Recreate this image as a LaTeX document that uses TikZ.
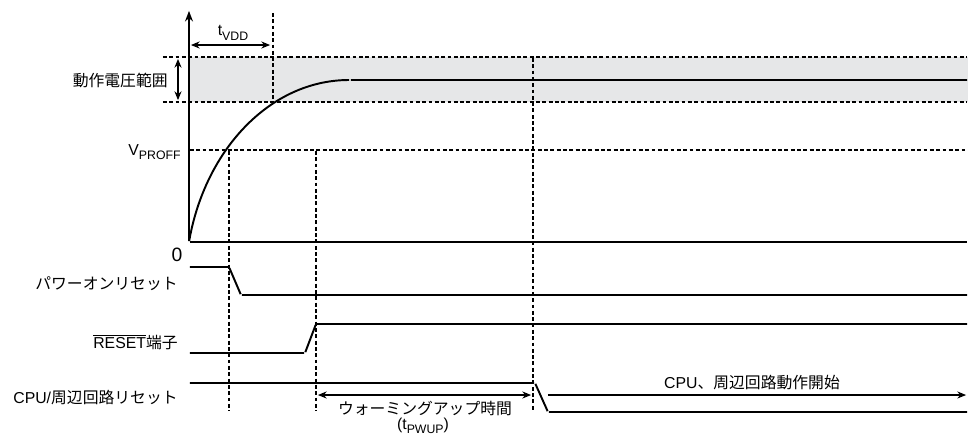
\documentclass[tikz,border=0pt]{standalone}
\usepackage{fontspec}
\setmainfont{Liberation Sans}
\newfontfamily\jp{Noto Sans CJK JP}
\usetikzlibrary{arrows.meta}
\newcommand{\lowsub}[1]{\raisebox{-0.28em}{\fontsize{7}{8}\selectfont #1}}
\tikzstyle{none}=[inner sep=0pt,outer sep=0pt]
\definecolor{bandgray}{rgb}{0.902,0.906,0.910}
\definecolor{myblack}{rgb}{0.000,0.000,0.000}
\tikzstyle{sig}=[line width=1.1pt,draw=myblack,line join=round]
\tikzstyle{guide}=[line width=0.9pt,draw=myblack,dash pattern=on 2.2pt off 1.4pt]
\tikzstyle{dim}=[line width=1.1pt,draw=myblack,{Stealth[length=5pt,width=4pt]}-{Stealth[length=5pt,width=4pt]}]
\tikzstyle{lbl}=[inner sep=0pt,font=\fontsize{9}{11}\selectfont]

\begin{document}
\begin{tikzpicture}[x=0.02cm,y=-0.02cm]
\useasboundingbox (0,0) rectangle (968,434);
		\node [style=none] (0) at (189,242) {};
		\node [style=none] (1) at (189,10) {};
		\node [style=none] (2) at (968,242) {};
		\node [style=none] (3) at (189,57) {};
		\node [style=none] (4) at (162,57) {};
		\node [style=none] (5) at (968,57) {};
		\node [style=none] (6) at (162,102) {};
		\node [style=none] (7) at (968,102) {};
		\node [style=none] (8) at (189,150) {};
		\node [style=none] (9) at (968,150) {};
		\node [style=none] (10) at (273,12) {};
		\node [style=none] (11) at (273,102) {};
		\node [style=none] (12) at (229,150) {};
		\node [style=none] (13) at (229,412) {};
		\node [style=none] (14) at (316,150) {};
		\node [style=none] (15) at (316,412) {};
		\node [style=none] (16) at (533,57) {};
		\node [style=none] (17) at (533,412) {};
		\node [style=none] (18) at (350,80) {};
		\node [style=none] (19) at (968,80) {};
		\node [style=none] (20) at (190,45) {};
		\node [style=none] (21) at (271,45) {};
		\node [style=none] (22) at (178,58) {};
		\node [style=none] (23) at (178,101) {};
		\node [style=none] (24) at (189,267) {};
		\node [style=none] (25) at (229,267) {};
		\node [style=none] (26) at (241,295) {};
		\node [style=none] (27) at (968,295) {};
		\node [style=none] (28) at (189,353) {};
		\node [style=none] (29) at (305,353) {};
		\node [style=none] (30) at (316,324) {};
		\node [style=none] (31) at (968,324) {};
		\node [style=none] (32) at (189,383) {};
		\node [style=none] (33) at (535,383) {};
		\node [style=none] (34) at (548,412) {};
		\node [style=none] (35) at (968,412) {};
		\node [style=none] (36) at (317,395) {};
		\node [style=none] (37) at (532,395) {};
		\node [style=none] (38) at (547,395) {};
		\node [style=none] (39) at (967,395) {};
	% band of the operating voltage
	\fill [bandgray] (3) rectangle (7);
	% guides
		\draw [style=guide] (4) to (5);
		\draw [style=guide] (6) to (7);
		\draw [style=guide] (8) to (9);
		\draw [style=guide] (10) to (11);
		\draw [style=guide] (12) to (13);
		\draw [style=guide] (14) to (15);
		\draw [style=guide] (16) to (17);
	% axes and supply curve
		\draw [style=sig,-{Stealth[length=6pt,width=4.5pt]}] (0) to (1);
		\draw [style=sig] (0) to (2);
		\draw [style=sig] (0) .. controls (205,150) and (270,80) .. (18) -- (19);
		\draw [style=dim] (20) to (21);
		\draw [style=dim] (22) to (23);
	% signals
		\draw [style=sig] (24) -- (25) -- (26) -- (27);
		\draw [style=sig] (28) -- (29) -- (30) -- (31);
		\draw [style=sig] (32) -- (33) -- (34) -- (35);
		\draw [style=dim] (36) to (37);
		\draw [style=sig,-{Stealth[length=5pt,width=4pt]}] (38) to (39);
	% labels
\node [style=lbl] (v1) at (233,33) {t\lowsub{VDD}};
\node [style=lbl,anchor=east] (v2) at (168,80) {\jp 動作電圧範囲};
\node [style=lbl,anchor=base east] (v3) at (181,155) {V\lowsub{PROFF}};
\node [style=lbl,font=\fontsize{11}{13}\selectfont] (v4) at (177,255) {0};
\node [style=lbl,anchor=east] (v5) at (178,284) {\jp パワーオンリセット};
\node [style=lbl,anchor=east] (v6) at (178,342) {$\overline{\mbox{RESET}}${\jp 端子}};
\node [style=lbl,anchor=east] (v7) at (178,398) {CPU/{\jp 周辺回路リセット}};
\node [style=lbl] (v8) at (425,408) {\jp ウォーミングアップ時間};
\node [style=lbl] (v9) at (423,426) {(t\lowsub{PWUP})};
\node [style=lbl] (v10) at (752,383) {CPU{\jp 、周辺回路動作開始}};
\end{tikzpicture}
\end{document}
